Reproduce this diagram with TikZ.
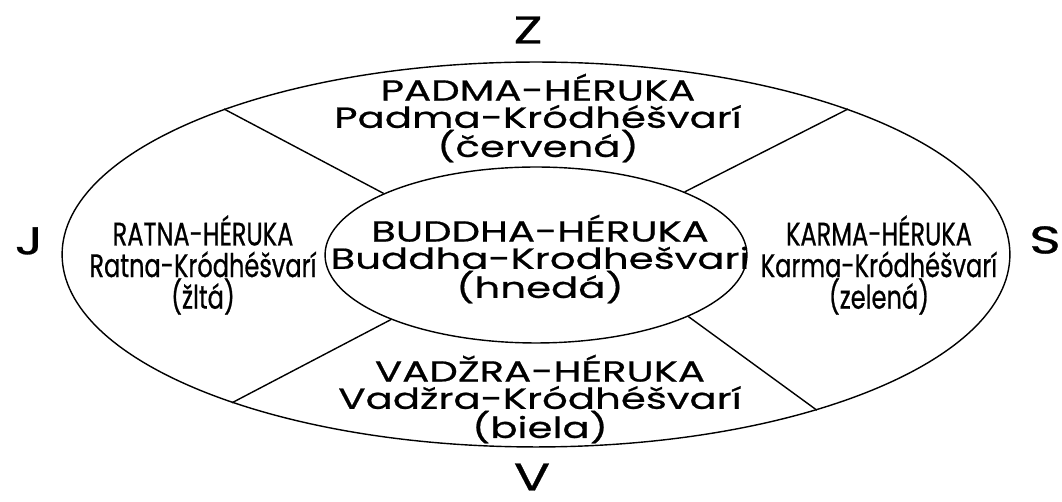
\documentclass[tikz,border=0pt]{standalone}
\usepackage{fontspec}
\setmainfont{Poppins}
\newfontfamily\widefont[FakeStretch=1.39,FakeBold=0.7]{Poppins}
\newfontfamily\narrowfont[FakeStretch=0.74,FakeBold=0.7]{Poppins}
\usetikzlibrary{positioning,shapes.geometric}
\newcommand{\mainsize}{\fontsize{16.5}{15.5}\widefont}
\newcommand{\sidesize}{\fontsize{18.5}{18}\narrowfont}

\begin{document}
\begin{tikzpicture}[x=0.02cm,y=-0.02cm,line width=0.8pt,
  oval/.style={draw,ellipse,inner sep=0pt},
  blocktext/.style={align=center,inner sep=0pt,font=\mainsize},
  sidetext/.style={align=center,inner sep=0pt,font=\sidesize},
  compass/.style={inner sep=0pt,font=\fontsize{22}{22}\widefont}]
\useasboundingbox (0,0) rectangle (1062,502);
\node[oval,minimum width=18.96cm,minimum height=7.7cm] (outer) at (536,254.5) {};
\node[oval,minimum width=8.44cm,minimum height=3.52cm] (inner) at (536,255) {};
\draw (inner.158) -- (outer.155);
\draw (inner.23) -- (outer.25);
\draw (inner.204) -- (outer.206);
\draw (inner.338) -- (outer.331.5);
\node[blocktext] (padma) at (538,118)
  {PADMA-HÉRUKA\\Padma-Kródhéšvarí\\(červená)};
\node[blocktext] (buddha) at (540,259)
  {BUDDHA-HÉRUKA\\Buddha-Krodhešvari\\(hnedá)};
\node[blocktext] (vadzra) at (540,399)
  {VADŽRA-HÉRUKA\\Vadžra-Kródhéšvarí\\(biela)};
\node[sidetext] (ratna) at (203,265)
  {RATNA-HÉRUKA\\Ratna-Kródhéšvarí\\(žltá)};
\node[sidetext] (karma) at (879,265)
  {KARMA-HÉRUKA\\Karma-Kródhéšvarí\\(zelená)};
\node[compass] (z) at (528,30) {Z};
\node[compass] (v) at (532,477) {V};
\node[compass] (j) at (29,241) {J};
\node[compass] (s) at (1045,240) {S};
\end{tikzpicture}
\end{document}
